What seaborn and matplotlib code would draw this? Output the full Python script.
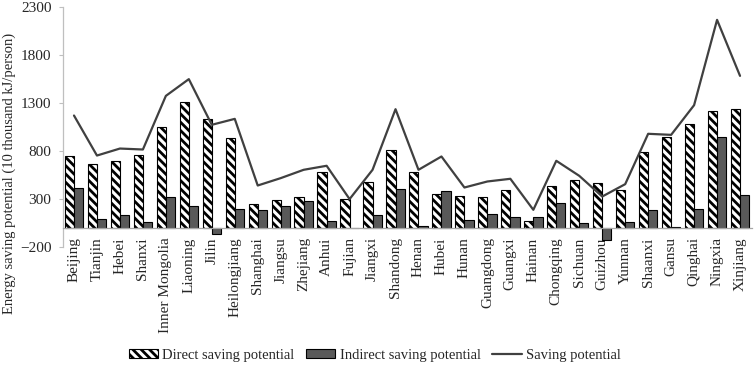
import matplotlib
matplotlib.use("Agg")
import matplotlib.pyplot as plt
from matplotlib.patches import Patch
from matplotlib.lines import Line2D
import seaborn as sns
import pandas as pd
import numpy as np

# values (10 thousand kJ/person)
provinces = ["Beijing", "Tianjin", "Hebei", "Shanxi", "Inner Mongolia", "Liaoning",
             "Jilin", "Heilongjiang", "Shanghai", "Jiangsu", "Zhejiang", "Anhui",
             "Fujian", "Jiangxi", "Shandong", "Henan", "Hubei", "Hunan", "Guangdong",
             "Guangxi", "Hainan", "Chongqing", "Sichuan", "Guizhou", "Yunnan",
             "Shaanxi", "Gansu", "Qinghai", "Ningxia", "Xinjiang"]
direct = [750, 662, 690, 759, 1049, 1313, 1135, 940, 245, 286, 321, 575,
          293, 474, 815, 575, 355, 328, 321, 391, 70, 439, 495, 460, 391,
          787, 950, 1083, 1222, 1236]
indirect = [412, 91, 126, 53, 324, 230, -65, 192, 188, 220, 272, 67,
            -10, 133, 404, 11, 380, 81, 143, 115, 109, 255, 46, -135, 60,
            185, 5, 192, 947, 342]
total = [1170, 752, 825, 815, 1375, 1550, 1073, 1135, 439, 516, 603, 645,
         297, 603, 1236, 603, 742, 418, 481, 509, 185, 697, 540, 324, 453,
         979, 968, 1278, 2169, 1584]

df = pd.DataFrame({
    "province": provinces * 2,
    "value": direct + indirect,
    "kind": ["Direct saving potential"] * len(provinces) + ["Indirect saving potential"] * len(provinces),
})

sns.set_style("white")
plt.rcParams["font.family"] = ["Liberation Serif", "DejaVu Serif"]
plt.rcParams["font.size"] = 10.5
plt.rcParams["hatch.linewidth"] = 2.0
plt.rcParams["hatch.color"] = "black"

fig = plt.figure(figsize=(7.54, 3.66), dpi=100)
ax = fig.add_axes([0.0829, 0.326, 0.9138, 0.654])

sns.barplot(data=df, x="province", y="value", hue="kind", ax=ax,
            palette=["white", "#595959"], saturation=1, width=0.8,
            edgecolor="black", linewidth=0.8, legend=False, errorbar=None)
for bar in ax.containers[0]:
    bar.set_hatch("\\\\\\\\")

ax.plot(np.arange(len(provinces)), total, color="#404040", lw=1.6, zorder=5)

ax.set_xlim(-0.5, len(provinces) - 0.5)
ax.set_ylim(-200, 2300)
ax.set_yticks([-200, 300, 800, 1300, 1800, 2300])
ax.set_xlabel("")
ax.set_ylabel("")

for s in ["top", "right"]:
    ax.spines[s].set_visible(False)
ax.spines["left"].set_color("#bfbfbf")
ax.spines["left"].set_linewidth(0.9)
ax.spines["bottom"].set_position(("data", 0))
ax.spines["bottom"].set_color("#a6a6a6")
ax.spines["bottom"].set_linewidth(0.9)

ax.tick_params(axis="y", left=True, length=3, width=0.8, color="#bfbfbf", pad=5, labelsize=11)
ax.tick_params(axis="x", length=0, pad=7, labelsize=11)
plt.setp(ax.get_xticklabels(), rotation=90, va="top")

fig.text(0.012, 0.525, "Energy saving potential (10 thousand kJ/person)",
         rotation=90, ha="center", va="center", fontsize=10.5)

handles = [
    Patch(facecolor="white", edgecolor="black", hatch="\\\\\\\\", linewidth=0.8),
    Patch(facecolor="#595959", edgecolor="black", linewidth=0.8),
    Line2D([0], [0], color="#404040", lw=1.6),
]
labels = ["Direct saving potential", "Indirect saving potential", "Saving potential"]
fig.legend(handles, labels, loc="center", bbox_to_anchor=(0.497, 0.03), ncol=3,
           frameon=False, fontsize=10.5, handlelength=2.0, handleheight=0.6,
           handletextpad=0.3, columnspacing=0.8, borderaxespad=0)

fig.savefig("out.png", dpi=100)
